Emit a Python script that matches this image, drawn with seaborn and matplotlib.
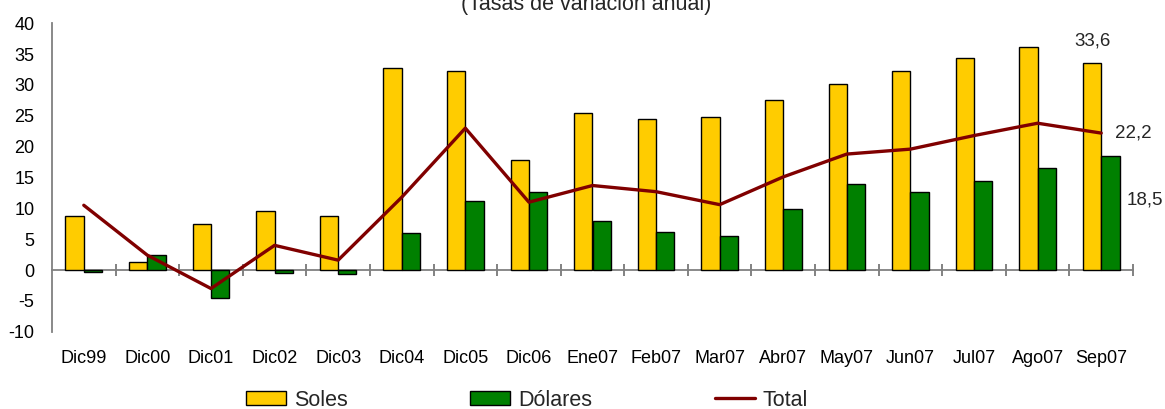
import numpy as np
import pandas as pd
import matplotlib
matplotlib.use("Agg")
import matplotlib.pyplot as plt
from matplotlib.patches import Patch
from matplotlib.lines import Line2D
import seaborn as sns

# ---- data ----
periodos = ["Dic99", "Dic00", "Dic01", "Dic02", "Dic03", "Dic04", "Dic05", "Dic06",
            "Ene07", "Feb07", "Mar07", "Abr07", "May07", "Jun07", "Jul07", "Ago07", "Sep07"]
soles = [8.7, 1.3, 7.5, 9.5, 8.7, 32.7, 32.2, 17.8, 25.5, 24.5, 24.8, 27.5, 30.2, 32.2, 34.4, 36.1, 33.6]
dolares = [-0.3, 2.5, -4.6, -0.5, -0.7, 6.0, 11.2, 12.7, 8.0, 6.2, 5.5, 9.9, 13.9, 12.7, 14.5, 16.6, 18.5]
total = [10.5, 2.4, -3.0, 4.0, 1.6, 11.8, 23.0, 11.0, 13.7, 12.7, 10.6, 15.1, 18.8, 19.6, 21.8, 23.8, 22.2]
series = ["Soles", "Dólares", "Total"]
titulo = "(Tasas de variación anual)"
yticks = list(range(-10, 45, 5))

colores = {"Soles": "#FFCC00", "Dólares": "#008000", "Total": "#800000"}

sns.set_style("white")
plt.rcParams["font.family"] = ["Liberation Sans", "DejaVu Sans"]

n = len(periodos)
df = pd.DataFrame({
    "Periodo": periodos * 2,
    "Serie": [series[0]] * n + [series[1]] * n,
    "Valor": soles + dolares,
})

fig = plt.figure(figsize=(11.65, 4.09), dpi=100)
ax = fig.add_axes([52 / 1165, 1 - 331.7 / 409, (1133 - 52) / 1165, (331.7 - 23.3) / 409])

group_w = 0.576
sns.barplot(data=df, x="Periodo", y="Valor", hue="Serie", order=periodos,
            hue_order=series[:2], palette={k: colores[k] for k in series[:2]},
            width=group_w, edgecolor="black", linewidth=1.0, saturation=1,
            legend=False, ax=ax, zorder=2)

x = np.arange(n)
sns.lineplot(x=x, y=total, color=colores["Total"], linewidth=2.4, ax=ax, zorder=3)

ax.set_xlim(-0.5, n - 0.5)
ax.set_ylim(-10, 40)
ax.set_xlabel("")
ax.set_ylabel("")

for s in ["top", "right", "bottom"]:
    ax.spines[s].set_visible(False)
ax.spines["left"].set_color("#808080")
ax.spines["left"].set_linewidth(1.3)

ax.set_yticks(yticks)
ax.set_yticklabels([str(v) for v in yticks])
ax.tick_params(axis="y", direction="inout", length=9.5, width=1.1, color="#808080",
               labelsize=13, pad=8, labelcolor="black")
ax.set_xticks(x)
ax.set_xticklabels(periodos)
ax.tick_params(axis="x", length=0, labelsize=13, pad=13, labelcolor="black")

# zero line with category boundary ticks
secax = ax.secondary_xaxis(0, transform=ax.transData)
secax.set_xticks(np.arange(0.5, n, 1.0))
secax.tick_params(direction="inout", length=9, width=1.1, color="#606060",
                  labelbottom=False, labeltop=False)
secax.spines["bottom"].set_color("#808080")
secax.spines["bottom"].set_linewidth(1.3)

def fmt(v):
    return f"{v:.1f}".replace(".", ",")

bar_w = group_w / 2
last = n - 1
ax.annotate(fmt(soles[-1]), xy=(last - bar_w / 2, soles[-1]), xytext=(0, 15.5),
            textcoords="offset points", ha="center", va="center", fontsize=13.5)
ax.annotate(fmt(total[-1]), xy=(last, total[-1]), xytext=(10, 0),
            textcoords="offset points", ha="left", va="center", fontsize=13.5)
ax.annotate(fmt(dolares[-1]), xy=(last + bar_w / 2, dolares[-1]), xytext=(12, -31.7),
            textcoords="offset points", ha="left", va="center", fontsize=13.5)

fig.text(586 / 1165, 1 - 10 / 409, titulo, ha="center", va="baseline", fontsize=15.5)

handles = [
    Patch(facecolor=colores[series[0]], edgecolor="black", linewidth=1.0, label=series[0]),
    Patch(facecolor=colores[series[1]], edgecolor="black", linewidth=1.0, label=series[1]),
    Line2D([], [], color=colores[series[2]], linewidth=2.4, label=series[2]),
]
fig.legend(handles=handles, loc="center", bbox_to_anchor=(527 / 1165, 1 - 400 / 409),
           ncol=3, frameon=False, fontsize=15.5, handlelength=1.85, handleheight=0.6,
           handletextpad=0.37, columnspacing=5.7, borderaxespad=0, borderpad=0)

fig.savefig("out.png", dpi=100)
